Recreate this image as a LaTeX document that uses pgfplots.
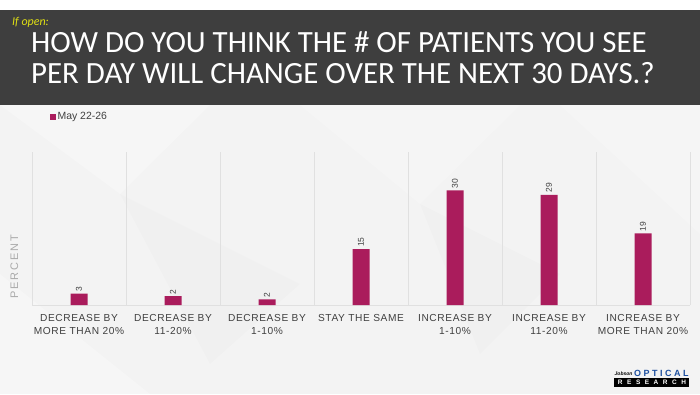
\documentclass[border=0pt]{standalone}
\usepackage{pgfplots}
\usepackage{pgfplotstable}
\pgfplotsset{compat=1.18}
\usepackage{fontspec}
\setmainfont{Liberation Sans}
\newfontfamily\titlefont{Carlito}
\definecolor{barc}{RGB}{170,28,92}
\definecolor{bannerc}{RGB}{62,62,62}
\definecolor{bgc}{RGB}{243,243,243}
\definecolor{gridc}{RGB}{224,224,224}
\definecolor{labc}{RGB}{64,64,64}
\definecolor{pctc}{RGB}{170,170,170}
\definecolor{yellowc}{RGB}{222,222,20}
\definecolor{logoblue}{RGB}{30,80,160}
\pgfplotstableread{
x y lab
0 3 3
1 2.3 2
2 1.5 2
3 14.6 15
4 30 30
5 28.8 29
6 18.7 19
}\datatable
\begin{document}
\begin{tikzpicture}[x=1bp,y=1bp]
\fill[white] (0,0) rectangle (700,394);
\fill[bgc] (0,0) rectangle (700,289);
% subtle background facets
\fill[white,opacity=0.25] (0,289) -- (210,289) -- (120,200) -- cycle;
\fill[white,opacity=0.2] (300,289) -- (520,289) -- (420,190) -- cycle;
\fill[white,opacity=0.2] (560,289) -- (700,289) -- (700,160) -- cycle;
\fill[black,opacity=0.012] (120,200) -- (300,110) -- (210,30) -- cycle;
\fill[black,opacity=0.012] (420,190) -- (560,120) -- (480,40) -- cycle;
\fill[white,opacity=0.25] (0,0) -- (150,0) -- (0,120) -- cycle;
\fill[bannerc] (0,289) rectangle (700,384);
\node[anchor=base west, inner sep=0, text=yellowc, font=\titlefont\itshape\fontsize{12}{12}\selectfont] at (12,369) {If open:};
\node[anchor=base west, inner sep=0, text=white, font=\titlefont\fontsize{31}{31}\selectfont] at (31,342) {HOW DO YOU THINK THE \# OF PATIENTS YOU SEE};
\node[anchor=base west, inner sep=0, text=white, font=\titlefont\fontsize{31}{31}\selectfont] at (31,311) {PER DAY WILL CHANGE OVER THE NEXT 30 DAYS.?};
\begin{axis}[
  at={(32bp,89bp)}, anchor=south west,
  scale only axis, width=658bp, height=153bp,
  xmin=-0.5, xmax=6.5, ymin=0, ymax=40,
  ybar, bar width=17bp,
  axis line style={draw=none},
  ytick=\empty,
  xtick={0,...,6},
  xticklabels={{DECREASE BY\\MORE THAN 20\%},{DECREASE BY\\11-20\%},{DECREASE BY\\1-10\%},{STAY THE SAME},{INCREASE BY\\1-10\%},{INCREASE BY\\11-20\%},{INCREASE BY\\MORE THAN 20\%}},
  xticklabel style={align=center, anchor=north, yshift=-6bp, text=labc, font=\addfontfeatures{LetterSpace=6}\fontsize{10.2}{13}\selectfont},
  major tick length=0pt, minor tick length=0pt,
  minor xtick={-0.5,0.5,...,6.5},
  xminorgrids,
  minor grid style={gridc, line width=0.7bp},
  extra y ticks={0}, extra y tick labels={},
  extra y tick style={ymajorgrids=true, major grid style={gridc, line width=0.8bp}},
  ylabel={PERCENT},
  ylabel style={at={(axis description cs:-0.027,0.25)}, anchor=center, rotate=0, text=pctc, font=\addfontfeatures{LetterSpace=18}\fontsize{11}{11}\selectfont},
  nodes near coords,
  point meta=explicit symbolic,
  nodes near coords style={rotate=90, anchor=west, inner sep=2bp, text=labc, font=\fontsize{8.5}{8.5}\selectfont},
  legend style={at={(axis description cs:0.0228,1.229)}, anchor=west, draw=none, fill=none, font=\fontsize{10.5}{10.5}\selectfont, text=labc},
  legend image code/.code={\fill[barc] (0bp,-2.7bp) rectangle (5.4bp,2.7bp);},
  clip=false,
]
\addplot[fill=barc, draw=none] table[x=x, y=y, meta=lab]{\datatable};
\addlegendentry{May 22-26}
\end{axis}
% logo
\node[anchor=base west, inner sep=0, font=\itshape\bfseries\fontsize{5}{5}\selectfont] at (614.5,18.5) {Jobson};
\node[anchor=base west, inner sep=0, text=logoblue, font=\bfseries\fontsize{9}{9}\selectfont] at (634,18) {\addfontfeatures{LetterSpace=28}OPTICAL};
\fill[black] (614,7) rectangle (689,16);
\node[inner sep=0, text=white, font=\bfseries\fontsize{6.5}{6.5}\selectfont] at (652,11.5) {\addfontfeatures{LetterSpace=70}RESEARCH};
\pgfresetboundingbox
\path[use as bounding box] (0,0) rectangle (700,394);
\end{tikzpicture}
\end{document}
